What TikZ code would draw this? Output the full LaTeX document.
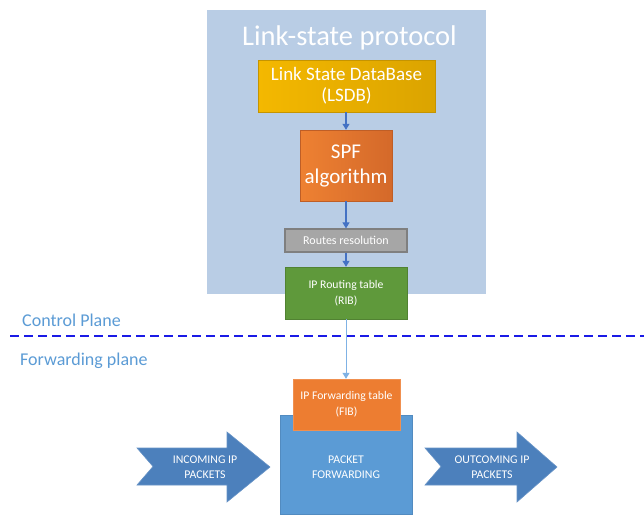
\documentclass[tikz,border=0pt]{standalone}
\usepackage{fontspec}
\setmainfont{Carlito}
\usetikzlibrary{arrows.meta}
\definecolor{bgblue}{HTML}{B9CDE5}
\definecolor{gold1}{HTML}{F4B800}
\definecolor{gold2}{HTML}{DBA400}
\definecolor{orng1}{HTML}{EE8132}
\definecolor{orng2}{HTML}{D4692A}
\definecolor{greyb}{HTML}{A6A6A6}
\definecolor{greyd}{HTML}{7F7F7F}
\definecolor{ribgreen}{HTML}{5F993B}
\definecolor{fiborange}{HTML}{ED7D31}
\definecolor{pfblue}{HTML}{5B9BD5}
\definecolor{arrblue}{HTML}{4C80BC}
\definecolor{conblue}{HTML}{4472C4}
\definecolor{lightcon}{HTML}{7FB2E5}
\definecolor{planetxt}{HTML}{5B9BD5}
\definecolor{dashblue}{HTML}{1A1AE6}
\tikzset{
  box/.style={rectangle, inner sep=0pt, align=center, text=white},
  conn/.style={draw=conblue, line width=1.1pt, -{Triangle[length=6pt,width=7pt]}},
  bigarrow/.style={fill=arrblue, draw=arrblue!85!white, line width=0.6pt},
  fs/.style 2 args={font=\fontsize{#1}{#2}\selectfont}
}
\begin{document}
\begin{tikzpicture}[x=1pt,y=-1pt]
\useasboundingbox (0,0) rectangle (644,514);
% background protocol panel
\node[box, fill=bgblue, minimum width=279pt, minimum height=284pt] (bg) at (346.5,152) {};
\node[text=white, fs={28.5}{32}, inner sep=0pt] (title) at (349.5,38) {Link-state protocol};
% LSDB
\node[box, left color=gold1, right color=gold2, draw=gold2!90!black, line width=0.4pt,
  minimum width=177pt, minimum height=52pt, fs={19}{21}] (lsdb) at (346.5,86) {Link State DataBase\\(LSDB)};
% SPF
\node[box, left color=orng1, right color=orng2, draw=orng2!90!black, line width=0.4pt,
  minimum width=92pt, minimum height=71pt, fs={21}{25}] (spf) at (346,165.5) {SPF\\algorithm};
% Routes resolution
\node[box, fill=greyb, draw=greyd, line width=1.2pt,
  minimum width=122pt, minimum height=23pt, fs={12}{14}] (rr) at (346,240.5) {Routes resolution};
% RIB
\node[box, fill=ribgreen, draw=ribgreen!85!black, line width=0.4pt,
  minimum width=122pt, minimum height=52pt, fs={11.7}{16}] (rib) at (346,293) {IP Routing table\\(RIB)};
% plane labels and separator
\node[text=planetxt, fs={18}{21}, anchor=west, inner sep=0pt] (cp) at (22,320) {Control Plane};
\coordinate (dl) at (10,336);
\coordinate (dr) at (644,336);
\draw[dashblue, line width=1.8pt, dash pattern=on 9pt off 5pt] (dl) -- (dr);
\node[text=planetxt, fs={18}{21}, anchor=west, inner sep=0pt] (fp) at (20,361) {Forwarding plane};
% Packet forwarding
\node[box, fill=pfblue, draw=pfblue!90!black, line width=0.4pt,
  minimum width=132pt, minimum height=99pt] (pf) at (346,464.5) {};
\node[text=white, fs={11.8}{15}, align=center, inner sep=0pt] (pft) at (346,467.5) {PACKET\\FORWARDING};
% FIB
\node[box, fill=fiborange, draw=fiborange!85!white, line width=0.4pt,
  minimum width=107pt, minimum height=51pt, fs={11.7}{16}] (fib) at (346.5,404.5) {IP Forwarding table\\(FIB)};
% connectors
\draw[conn] (lsdb.south -| spf.north) -- (spf.north);
\draw[conn] (spf.south) -- (rr.north);
\draw[conn] (rr.south) -- (rib.north);
\draw[conn, draw=lightcon, line width=1pt] (rib.south) -- (rib.south |- fib.north);
% incoming arrow
\draw[bigarrow] (137,448) -- (227,448) -- (227,432) -- (270,467) -- (227,502) -- (227,485) -- (137,485) -- (153,466.5) -- cycle;
\node[text=white, fs={11.8}{15}, align=center, inner sep=0pt] (inc) at (205,467.5) {INCOMING IP\\PACKETS};
% outcoming arrow
\draw[bigarrow] (425,448) -- (517,448) -- (517,432) -- (557,467) -- (517,502) -- (517,485) -- (425,485) -- (441,466.5) -- cycle;
\node[text=white, fs={11.8}{15}, align=center, inner sep=0pt] (outc) at (492,467.5) {OUTCOMING IP\\PACKETS};
\end{tikzpicture}
\end{document}
